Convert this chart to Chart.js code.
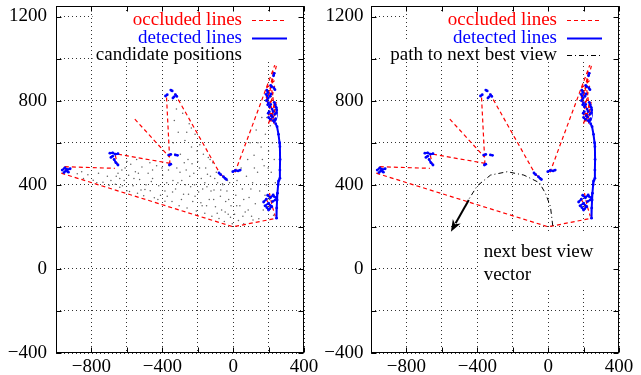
<!DOCTYPE html>
<html><head><meta charset="utf-8">
<script src="https://cdn.jsdelivr.net/npm/chart.js@4.4.1/dist/chart.umd.min.js"></script>
<style>
html,body{margin:0;padding:0;background:#fff;width:641px;height:375px;overflow:hidden}
canvas{position:absolute;top:0}
#c1{left:0}#c2{left:320px}
</style></head><body>
<canvas id="c1" width="320" height="375"></canvas>
<canvas id="c2" width="321" height="375"></canvas>
<script>
// ---- axis ranges / tick labels ----
const xRange = [-1000, 400];
const yRange = [-400, 1250];
const xTickLabels = [-800, -400, 0, 400];
const yTickLabels = [-400, 0, 400, 800, 1200];
const tickStep = 200;

// ---- legend / annotation text ----
const leftLegend = ["occluded lines", "detected lines", "candidate positions"];
const rightLegend = ["occluded lines", "detected lines", "path to next best view"];
const vectorLabel = ["next best view", "vector"];

// ---- occluded lines (red dashed), null separates polylines ----
const occludedLines = [
  [-970,455],[0,200],[240,240],null,
  [-950,486],[-668,478],null,
  [-955,485],[-935,460],null,
  [-650,545],[-357,502],null,
  [-665,540],[-655,500],null,
  [-555,712],[-358,530],null,
  [-376,815],[-357,500],null,
  [-329,834],[-75,454],null,
  [-70,450],[-40,425],null,
  [10,458],[235,969],null,
  [200,820],[244,965],null,
  [192,790],[228,940],null,
  [206,760],[226,840],null,
  [214,700],[232,790],null,
  [198,730],[240,760],null,
  [225,710],[244,800],null,
  [200,690],[222,760],null,
  [188,860],[240,900],null,
  [230,690],[210,800],null,
  [196,840],[236,870],null,
  [186,820],[212,760],null,
  [218,850],[242,720],null,
  [204,700],[238,735],null,
  [205,360],[220,300],[238,250],null,
  [185,335],[212,290],null
];

// ---- detected lines (blue solid) ----
const detectedLines = [
  [-965,470],[-950,480],[-935,472],[-920,476],null,
  [-955,458],[-945,466],[-930,460],null,
  [-696,550],[-680,552],[-665,545],[-650,548],null,
  [-672,520],[-662,505],[-650,494],null,
  [-690,530],[-680,536],null,
  [-364,541],[-352,544],null,
  [-326,542],[-314,540],null,
  [-360,494],[-352,498],null,
  [-382,822],[-372,828],null,
  [-352,850],[-344,846],null,
  [-326,828],[-318,820],null,
  [-340,812],[-334,818],null,
  [-80,456],[-70,448],null,
  [-55,438],[-45,430],[-38,425],null,
  [-2,462],[12,468],[28,466],[40,470],null,
  [240,690],[248,676],[256,640],[262,600],[264,581],[265,520],[264,470],[264,431],[258,420],[254,400],[250,360],[248,328],[246,290],[245,241],null,
  [172,318],[188,332],null,
  [180,300],[200,312],[215,298],null,
  [195,350],[210,338],[226,352],null,
  [205,285],[218,296],null,
  [222,320],[238,328],null,
  [190,292],[200,280],null,
  [230,345],[244,338],null,
  [190,850],[196,838],null,
  [188,800],[198,812],null,
  [208,820],[214,832],null,
  [230,860],[236,852],null,
  [220,760],[226,748],null,
  [235,735],[244,742],null,
  [200,720],[210,712],null,
  [225,705],[238,708],null,
  [242,770],[246,755],null,
  [205,770],[212,782],null,
  [195,780],[200,790],null,
  [215,730],[222,722],null,
  [238,780],[232,792],null,
  [186,830],[192,822],null,
  [212,872],[218,866],null,
  [228,918],[232,930],null,
  [198,740],[204,748],null,
  [232,700],[240,714]
];

// ---- candidate positions (grey dots, left panel) ----
const candidatePositions = [
  [-880,452],[-845,430],[-820,448],[-790,421],[-760,455],[-735,412],[-710,440],[-700,398],[-770,410],[-855,462],[-690,420],
  [-665,402],[-650,455],[-640,388],[-628,470],[-615,420],[-600,372],[-590,445],[-578,498],[-565,395],[-552,462],[-540,360],
  [-528,425],[-515,485],[-505,348],[-492,400],[-480,455],[-468,372],[-455,430],[-445,338],[-432,490],[-420,395],[-410,350],
  [-398,445],[-385,322],[-375,410],[-365,470],[-600,510],[-545,520],[-470,505],[-640,430],[-520,375],[-455,470],[-560,430],
  [-610,480],[-385,370],[-660,440],[-625,395],[-585,368],[-535,455],[-498,378],[-462,415],[-425,330],[-402,480],[-372,345],
  [-345,320],[-340,420],[-338,600],[-332,705],[-325,380],[-318,480],[-310,650],[-305,300],[-298,545],[-290,420],[-285,740],
  [-280,355],[-272,610],[-265,470],[-260,290],[-255,520],[-248,690],[-240,390],[-235,580],[-228,320],[-222,455],[-215,640],
  [-208,275],[-200,510],[-195,365],[-188,590],[-180,430],[-175,300],[-168,545],[-160,265],[-155,480],[-148,390],[-140,530],
  [-135,330],[-128,440],[-120,250],[-115,505],[-108,375],[-100,295],[-95,460],[-88,410],[-80,240],[-72,345],[-65,280],
  [-58,400],[-50,225],[-42,320],[-35,370],[-28,260],[-20,410],[-12,300],[-5,215],[-330,545],[-300,460],[-270,400],
  [-245,440],[-215,345],[-190,480],[-160,410],[-130,520],[-150,300],[-110,330],[-60,405],[-25,330],[-320,760],[-342,365],
  [-312,410],[-292,330],[-276,505],[-252,355],[-232,500],[-218,400],[-204,560],[-182,315],[-172,380],[-145,450],[-125,370],
  [-104,430],[-90,265],[-70,375],[-45,270],[-32,420],[-15,245],[-262,650],[-236,670],
  [8,260],[15,350],[22,420],[30,230],[38,300],[45,480],[52,380],[60,215],[68,270],[75,440],[82,520],[90,340],[96,600],
  [104,250],[110,410],[118,540],[125,310],[130,660],[138,460],[145,238],[150,370],[158,580],[162,720],[170,280],[175,490],
  [182,640],[188,400],[195,790],[200,560],[205,330],[210,680],[215,460],[222,600],[228,255],[232,520],[238,410],[20,300],
  [55,250],[85,280],[120,480],[140,600],[165,520],[190,720],[112,232],[60,330],[100,380],[180,350],[215,820],[225,740],[198,480]
];

// ---- path to next best view (black dash-dot, right panel) ----
const pathToNextBestView = [
  [26,205],[13,296],[-15,359],[-50,410],[-137,446],[-231,462],[-325,446],[-400,395],[-456,320]
];
// ---- next best view vector (arrow) ----
const nbvVectorStart = [-448,328];
const nbvVectorEnd = [-549,177];
const nbvLabelAt = [-364,58];

// -------------------------------------------------------------
const toXY = arr => arr.map(p => p ? {x:p[0], y:p[1]} : {x:null, y:null});
const FONT = "'Liberation Serif','Times New Roman',serif";
const fmt = v => v < 0 ? '\u2212' + Math.abs(v) : String(v);

function panelPlugin(o){
  return {
    id:'panel'+o.id,
    beforeDatasetsDraw(chart){
      const ctx = chart.ctx, a = chart.chartArea, sx = chart.scales.x, sy = chart.scales.y;
      ctx.save(); ctx.fillStyle = '#fff';
      o.keyBoxes.forEach(b => ctx.fillRect(a.left+b[0], a.top+b[1], (a.right-b[2]) - (a.left+b[0]), b[3]-b[1]));
      if (o.vector){
        const x0 = sx.getPixelForValue(-390), x1 = a.right-1;
        const y0 = sy.getPixelForValue(175), y1 = sy.getPixelForValue(-100);
        ctx.fillRect(x0, y0, x1-x0, y1-y0);
      }
      ctx.restore();
    },
    afterDatasetsDraw(chart){
      if (!o.vector) return;
      const ctx = chart.ctx, sx = chart.scales.x, sy = chart.scales.y;
      const x0 = sx.getPixelForValue(nbvVectorStart[0]), y0 = sy.getPixelForValue(nbvVectorStart[1]);
      const x1 = sx.getPixelForValue(nbvVectorEnd[0]), y1 = sy.getPixelForValue(nbvVectorEnd[1]);
      const ang = Math.atan2(y1-y0, x1-x0), L = 12, W = 4.5;
      ctx.save();
      ctx.strokeStyle = '#000'; ctx.fillStyle = '#000'; ctx.lineWidth = 2;
      ctx.beginPath(); ctx.moveTo(x0,y0);
      ctx.lineTo(x1 - Math.cos(ang)*L*0.8, y1 - Math.sin(ang)*L*0.8); ctx.stroke();
      ctx.beginPath();
      ctx.moveTo(x1,y1);
      ctx.lineTo(x1 - Math.cos(ang)*L - Math.sin(ang)*W, y1 - Math.sin(ang)*L + Math.cos(ang)*W);
      ctx.lineTo(x1 - Math.cos(ang)*L*0.7, y1 - Math.sin(ang)*L*0.7);
      ctx.lineTo(x1 - Math.cos(ang)*L + Math.sin(ang)*W, y1 - Math.sin(ang)*L - Math.cos(ang)*W);
      ctx.closePath(); ctx.fill();
      ctx.restore();
    },
    afterDraw(chart){
      const ctx = chart.ctx, a = chart.chartArea, sx = chart.scales.x, sy = chart.scales.y;
      ctx.save();
      ctx.strokeStyle = '#000'; ctx.lineWidth = 1; ctx.setLineDash([]);
      const L = Math.round(a.left)+0.5, R = Math.round(a.right)-0.5, T = Math.round(a.top)+0.5, B = Math.round(a.bottom)-0.5;
      ctx.strokeRect(L, T, R-L, B-T);
      ctx.beginPath();
      for (let v = xRange[0]; v <= xRange[1]; v += tickStep){
        const px = Math.round(sx.getPixelForValue(v))+0.5;
        ctx.moveTo(px, B); ctx.lineTo(px, B-5);
        ctx.moveTo(px, T); ctx.lineTo(px, T+5);
      }
      for (let v = yRange[0]; v <= yRange[1]; v += tickStep){
        const py = Math.round(sy.getPixelForValue(v))+0.5;
        ctx.moveTo(L, py); ctx.lineTo(L+5, py);
        ctx.moveTo(R, py); ctx.lineTo(R-5, py);
      }
      ctx.stroke();
      ctx.font = '19px ' + FONT; ctx.textAlign = 'right'; ctx.textBaseline = 'alphabetic';
      const base = [19, 36.5, 53.5];
      o.legend.forEach((t, i) => {
        const y = a.top + base[i];
        ctx.fillStyle = o.legendColors[i];
        ctx.fillText(t, a.right - 62, y);
        const st = o.legendStyles[i];
        if (!st) return;
        ctx.beginPath();
        ctx.strokeStyle = st.color; ctx.lineWidth = st.width; ctx.setLineDash(st.dash);
        const sy0 = Math.round(y - 5) + 0.5;
        ctx.moveTo(a.right - 52, sy0); ctx.lineTo(a.right - 17, sy0); ctx.stroke();
      });
      ctx.setLineDash([]);
      if (o.vector){
        ctx.fillStyle = '#000'; ctx.textAlign = 'left';
        const lx = sx.getPixelForValue(nbvLabelAt[0]), ly = sy.getPixelForValue(nbvLabelAt[1]);
        vectorLabel.forEach((t, i) => ctx.fillText(t, lx, ly + i*23.5));
      }
      ctx.restore();
    }
  };
}

function makeChart(id, o){
  const datasets = [
    {data: toXY(occludedLines), showLine:true, spanGaps:false, borderColor:'#ff0000', borderWidth:1.2, borderDash:[4,3], pointRadius:0, order:2},
    {data: toXY(detectedLines), showLine:true, spanGaps:false, borderColor:'#0000ff', backgroundColor:'#0000ff', borderWidth:2, pointRadius:1.4, pointBorderWidth:0, order:1}
  ];
  if (o.candidates) datasets.push({data: toXY(candidatePositions), showLine:false, pointRadius:0.75, pointBorderWidth:0, backgroundColor:'rgba(70,70,70,0.85)', order:3});
  if (o.vector) datasets.push({data: toXY(pathToNextBestView), showLine:true, borderColor:'#000', borderWidth:1, borderDash:[5,3,1,3], pointRadius:0, order:0});
  const tickFont = {family: FONT, size: 19};
  return new Chart(document.getElementById(id), {
    type:'scatter',
    data:{datasets},
    options:{
      responsive:false, animation:false, devicePixelRatio:1,
      layout:{padding:{left:0, right:o.padRight, top:6, bottom:0}},
      plugins:{legend:{display:false}, tooltip:{enabled:false}},
      scales:{
        x:{type:'linear', min:xRange[0], max:xRange[1],
           afterFit(s){ s.height = 22; s.paddingLeft = 0; s.paddingRight = 0; },
           ticks:{stepSize:tickStep, includeBounds:false, autoSkip:false, maxRotation:0, padding:3, color:'#000', font:tickFont,
                  callback:v => xTickLabels.includes(v) ? fmt(v) : ''},
           grid:{color:'rgba(0,0,0,0.8)', lineWidth:1, drawTicks:false},
           border:{display:false, dash:[1,3]}},
        y:{type:'linear', min:yRange[0], max:yRange[1],
           afterFit(s){ s.width = o.yWidth; s.paddingTop = 0; s.paddingBottom = 0; },
           ticks:{stepSize:tickStep, includeBounds:false, autoSkip:false, padding:o.yPad, color:'#000', font:tickFont,
                  callback:v => yTickLabels.includes(v) ? fmt(v) : ''},
           grid:{color:'rgba(0,0,0,0.8)', lineWidth:1, drawTicks:false},
           border:{display:false, dash:[1,3]}}
      }
    },
    plugins:[panelPlugin(o)]
  });
}

makeChart('c1', {id:1, padRight:16, yWidth:56, yPad:9, candidates:true, vector:false,
  legend:leftLegend, legendColors:['#ff0000','#0000ff','#000'],
  legendStyles:[{color:'#ff0000', width:1.2, dash:[4,3]}, {color:'#0000ff', width:2, dash:[]}, null],
  keyBoxes:[[36.5, 8, 1, 56]]});
makeChart('c2', {id:2, padRight:22, yWidth:51, yPad:7.5, candidates:false, vector:true,
  legend:rightLegend, legendColors:['#ff0000','#0000ff','#000'],
  legendStyles:[{color:'#ff0000', width:1.2, dash:[4,3]}, {color:'#0000ff', width:2, dash:[]}, {color:'#000', width:1, dash:[5,3,1,3]}],
  keyBoxes:[[36, 8, 1, 56], [12, 34, 1, 56]]});
</script></body></html>
